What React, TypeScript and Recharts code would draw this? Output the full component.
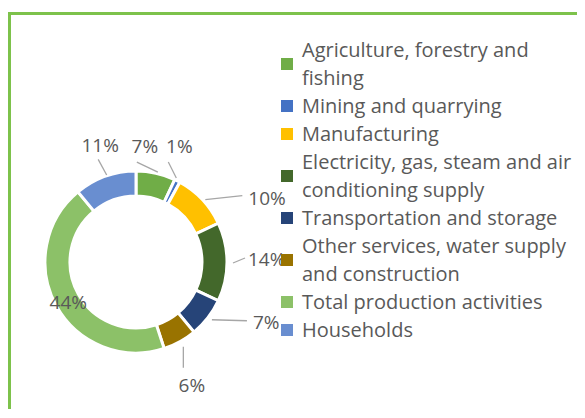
import { PieChart, Pie, Cell, Legend } from "recharts";

const sectors = [
  "Agriculture, forestry and fishing",
  "Mining and quarrying",
  "Manufacturing",
  "Electricity, gas, steam and air conditioning supply",
  "Transportation and storage",
  "Other services, water supply and construction",
  "Total production activities",
  "Households",
];
const shares = [7, 1, 10, 14, 7, 6, 44, 11];
const colors = [
  "#70AD47",
  "#4472C4",
  "#FFC000",
  "#43682B",
  "#264478",
  "#997300",
  "#8CC168",
  "#698ED0",
];

const data = sectors.map((name, i) => ({ name, value: shares[i] }));

const FONT = "'Open Sans', Lato, sans-serif";
const TEXT = "#595959";

// label placement, offsets from the slice's outer edge point
const labelLayout: {
  tx: number;
  ty: number;
  anchor: "start" | "middle" | "end";
  line: number[] | null;
}[] = [
  { tx: -11, ty: -27, anchor: "middle", line: [2, -1, -19, -11] },
  { tx: 2, ty: -35, anchor: "middle", line: [-1, -3, -9, -19] },
  { tx: 46, ty: -2, anchor: "start", line: [3, 0, 40, -4] },
  { tx: 21, ty: -3, anchor: "start", line: [6, 1, 18, -4] },
  { tx: 45, ty: 4, anchor: "start", line: [4, 2, 39, 3] },
  { tx: 12, ty: 43, anchor: "middle", line: [3.5, 5, 3.5, 26] },
  { tx: 12, ty: -4, anchor: "middle", line: null },
  { tx: -5, ty: -31, anchor: "middle", line: [1.5, -1.4, -7, -17] },
];

const RAD = Math.PI / 180;

function renderLabel(props: any) {
  const { cx, cy, midAngle, outerRadius, index, value } = props;
  const ex = cx + outerRadius * Math.cos(-midAngle * RAD);
  const ey = cy + outerRadius * Math.sin(-midAngle * RAD);
  const l = labelLayout[index];
  return (
    <g key={`lbl-${index}`}>
      {l.line && (
        <line
          x1={ex + l.line[0]}
          y1={ey + l.line[1]}
          x2={ex + l.line[2]}
          y2={ey + l.line[3]}
          stroke="#a6a6a6"
          strokeWidth={1.3}
        />
      )}
      <text
        x={ex + l.tx}
        y={ey + l.ty}
        textAnchor={l.anchor}
        dominantBaseline="central"
        fill={TEXT}
        fontSize={19}
        fontFamily={FONT}
      >
        {`${value}%`}
      </text>
    </g>
  );
}

function LegendBox() {
  return (
    <div style={{ fontFamily: FONT, fontSize: 20, color: TEXT, lineHeight: "28px" }}>
      {sectors.map((name, i) => (
        <div key={name} style={{ display: "flex", alignItems: "center" }}>
          <span
            style={{
              width: 12,
              height: 12,
              background: colors[i],
              marginRight: 9,
              flexShrink: 0,
            }}
          />
          <span style={{ width: 276 }}>{name}</span>
        </div>
      ))}
    </div>
  );
}

export default function App() {
  return (
    <div style={{ paddingTop: 4 }}>
      <div
        style={{
          width: 566,
          height: 394,
          borderLeft: "3px solid #7DC24B",
          borderTop: "3px solid #7DC24B",
        }}
      >
        <PieChart
          width={566}
          height={394}
          margin={{ top: 0, right: 0, bottom: 0, left: 0 }}
        >
          <Pie
            data={data}
            dataKey="value"
            nameKey="name"
            cx={125}
            cy={247}
            innerRadius={66}
            outerRadius={91}
            startAngle={90}
            endAngle={-270}
            stroke="#ffffff"
            strokeWidth={3}
            label={renderLabel}
            labelLine={false}
            isAnimationActive={false}
          >
            {data.map((d, i) => (
              <Cell key={d.name} fill={colors[i]} />
            ))}
          </Pie>
          <Legend
            layout="vertical"
            align="right"
            verticalAlign="top"
            content={() => <LegendBox />}
            wrapperStyle={{ left: 270, top: 21, width: 300 }}
          />
        </PieChart>
      </div>
    </div>
  );
}
